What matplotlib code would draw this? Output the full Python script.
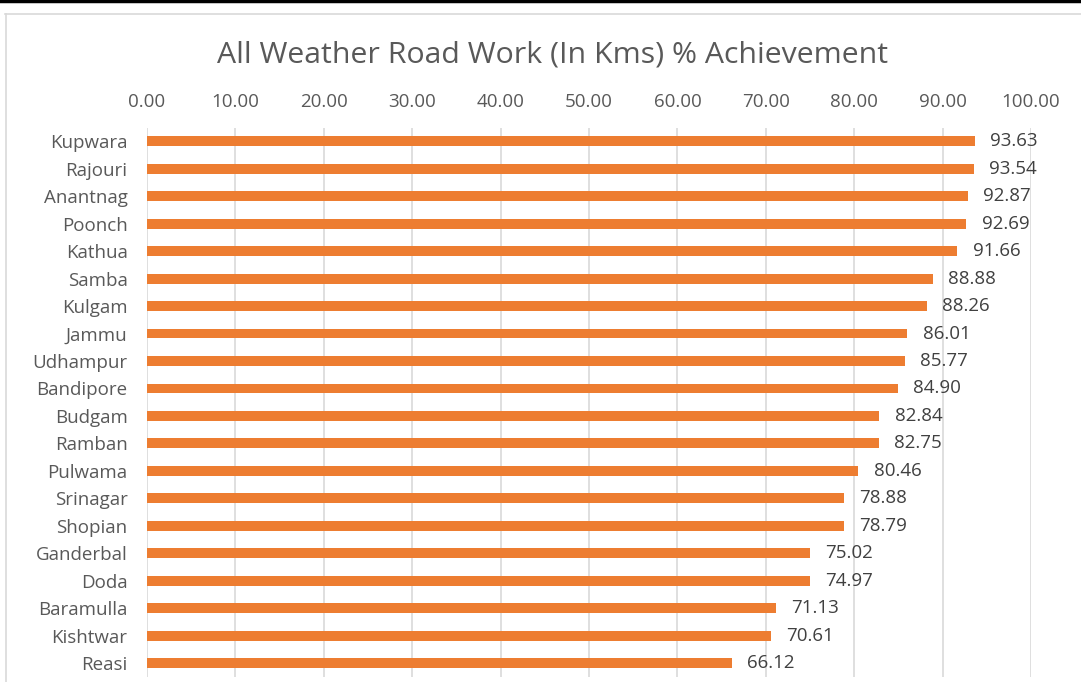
import matplotlib
matplotlib.use("Agg")
import matplotlib.pyplot as plt
from matplotlib.lines import Line2D

districts = ["Kupwara", "Rajouri", "Anantnag", "Poonch", "Kathua", "Samba", "Kulgam",
             "Jammu", "Udhampur", "Bandipore", "Budgam", "Ramban", "Pulwama", "Srinagar",
             "Shopian", "Ganderbal", "Doda", "Baramulla", "Kishtwar", "Reasi"]
achievement = [93.63, 93.54, 92.87, 92.69, 91.66, 88.88, 88.26, 86.01, 85.77, 84.90,
               82.84, 82.75, 80.46, 78.88, 78.79, 75.02, 74.97, 71.13, 70.61, 66.12]
xticks = [0, 10, 20, 30, 40, 50, 60, 70, 80, 90, 100]
title = "All Weather Road Work (In Kms) % Achievement"

plt.rcParams['font.family'] = ['Open Sans', 'DejaVu Sans']

W, H = 1081, 682
fig = plt.figure(figsize=(W / 100, H / 100), dpi=100)
ax = fig.add_axes([147 / W, 1 - 677 / H, (1031 - 147) / W, (677 - 128) / H])

pos = list(range(len(districts)))
ax.barh(pos, achievement, height=0.36, color="#ED7D31", zorder=3)
ax.set_ylim(len(districts) - 0.5, -0.48)
ax.set_xlim(0, 100)

ax.set_yticks(pos)
ax.set_yticklabels(districts, fontsize=13.5, color="#595959")
ax.set_xticks(xticks)
ax.set_xticklabels([f"{v:.2f}" for v in xticks], fontsize=13.5, color="#595959")
ax.xaxis.tick_top()
ax.tick_params(axis="both", length=0)
ax.tick_params(axis="x", pad=12)
ax.tick_params(axis="y", pad=14)
ax.grid(axis="x", color="#d9d9d9", linewidth=1.2, zorder=0)
for s in ax.spines.values():
    s.set_visible(False)

for p, v in zip(pos, achievement):
    ax.annotate(f"{v:.2f}", xy=(v, p), xytext=(11, 0), textcoords="offset points",
                va="center", ha="left", fontsize=13.5, color="#404040")

fig.text(553 / W, 1 - 55 / H, title, ha="center", va="center", fontsize=21.8, color="#595959")

# frame lines
fig.add_artist(Line2D([0, 1], [1 - 1 / H, 1 - 1 / H], transform=fig.transFigure, color="black", linewidth=2.5))
fig.add_artist(Line2D([5 / W, 1], [1 - 13.5 / H, 1 - 13.5 / H], transform=fig.transFigure, color="#d9d9d9", linewidth=1.2))
fig.add_artist(Line2D([5.5 / W, 5.5 / W], [0, 1 - 13.5 / H], transform=fig.transFigure, color="#d9d9d9", linewidth=1.2))

fig.savefig("out.png", dpi=100)
